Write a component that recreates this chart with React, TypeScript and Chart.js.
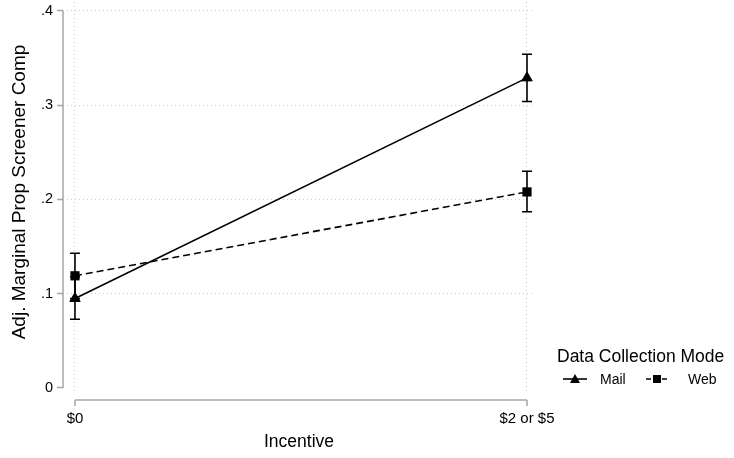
import React, { useEffect, useRef } from 'react';
import { Chart, registerables } from 'chart.js';

Chart.register(...registerables);

// ---- data ----
const incentives = ['$0', '$2 or $5'];
const xPositions = [0, 1];
const mailEst = [0.095, 0.329];
const mailLo = [0.073, 0.304];
const mailHi = [0.118, 0.354];
const webEst = [0.119, 0.208];
const webLo = [0.095, 0.187];
const webHi = [0.143, 0.23];
const yTicks = [0, 0.1, 0.2, 0.3, 0.4];
const yTickLabels = ['0', '.1', '.2', '.3', '.4'];
const seriesNames = ['Mail', 'Web'];
const legendTitle = 'Data Collection Mode';
const yTitle = 'Adj. Marginal Prop Screener Comp';
const xTitle = 'Incentive';

const FONT = "'Liberation Sans', Arial, sans-serif";
const AXIS_GRAY = '#a6a6a6';
const GRID_GRAY = '#cfcfcf';

const errorBarPlugin = {
  id: 'errorBars',
  afterDatasetsDraw(chart: any) {
    const { ctx } = chart;
    const xs = chart.scales.x;
    const ys = chart.scales.y;
    chart.data.datasets.forEach((ds: any) => {
      ds.lo.forEach((lo: number, i: number) => {
        const hi = ds.hi[i];
        const x = xs.getPixelForValue(xPositions[i]);
        const y1 = ys.getPixelForValue(lo);
        const y2 = ys.getPixelForValue(hi);
        ctx.save();
        ctx.strokeStyle = '#000';
        ctx.lineWidth = 1.6;
        ctx.setLineDash([]);
        ctx.beginPath();
        ctx.moveTo(x, y1);
        ctx.lineTo(x, y2);
        ctx.moveTo(x - 5, y1);
        ctx.lineTo(x + 5, y1);
        ctx.moveTo(x - 5, y2);
        ctx.lineTo(x + 5, y2);
        ctx.stroke();
        ctx.restore();
      });
    });
  },
};

const axesPlugin = {
  id: 'stataAxes',
  afterDraw(chart: any) {
    const { ctx, chartArea } = chart;
    const xs = chart.scales.x;
    const ys = chart.scales.y;
    ctx.save();
    ctx.strokeStyle = AXIS_GRAY;
    ctx.lineWidth = 1.5;
    ctx.setLineDash([]);
    // y axis line
    const yx = chartArea.left;
    ctx.beginPath();
    ctx.moveTo(yx, ys.getPixelForValue(yTicks[0]));
    ctx.lineTo(yx, ys.getPixelForValue(yTicks[yTicks.length - 1]));
    ctx.stroke();
    // x axis line, offset below plot region
    const ay = chartArea.bottom + 9;
    const x0 = xs.getPixelForValue(xPositions[0]);
    const x1 = xs.getPixelForValue(xPositions[xPositions.length - 1]);
    ctx.beginPath();
    ctx.moveTo(x0, ay);
    ctx.lineTo(x1, ay);
    xPositions.forEach((v) => {
      const px = xs.getPixelForValue(v);
      ctx.moveTo(px, ay);
      ctx.lineTo(px, ay + 6);
    });
    ctx.stroke();

    // y title
    ctx.fillStyle = '#000';
    ctx.save();
    ctx.translate(20, 192);
    ctx.rotate(-Math.PI / 2);
    ctx.font = `19px ${FONT}`;
    ctx.textAlign = 'center';
    ctx.textBaseline = 'middle';
    ctx.fillText(yTitle, 0, 0);
    ctx.restore();

    // legend
    const lx = 557;
    const ty = 357;
    ctx.font = `17.5px ${FONT}`;
    ctx.textAlign = 'left';
    ctx.textBaseline = 'middle';
    ctx.fillText(legendTitle, lx, ty);

    const ry = 379;
    ctx.strokeStyle = '#000';
    ctx.lineWidth = 1.6;
    // Mail
    ctx.beginPath();
    ctx.moveTo(563, ry);
    ctx.lineTo(587, ry);
    ctx.stroke();
    ctx.beginPath();
    ctx.moveTo(575, ry - 5);
    ctx.lineTo(580, ry + 4);
    ctx.lineTo(570, ry + 4);
    ctx.closePath();
    ctx.fill();
    ctx.font = `14px ${FONT}`;
    ctx.fillText(seriesNames[0], 600, ry + 1);
    // Web
    ctx.setLineDash([5, 3]);
    ctx.beginPath();
    ctx.moveTo(646, ry);
    ctx.lineTo(669, ry);
    ctx.stroke();
    ctx.setLineDash([]);
    ctx.fillRect(653, ry - 4, 8, 8);
    ctx.fillText(seriesNames[1], 688, ry + 1);
    ctx.restore();
  },
};

export default function App() {
  const ref = useRef<HTMLCanvasElement>(null);
  useEffect(() => {
    if (!ref.current) return;
    const chart = new Chart(ref.current, {
      type: 'line',
      data: {
        datasets: [
          {
            label: seriesNames[0],
            data: xPositions.map((x, i) => ({ x, y: mailEst[i] })),
            lo: mailLo,
            hi: mailHi,
            borderColor: '#000',
            backgroundColor: '#000',
            borderWidth: 1.6,
            pointStyle: 'triangle',
            pointRadius: 6,
            pointHoverRadius: 6,
            pointBackgroundColor: '#000',
            pointBorderColor: '#000',
            pointBorderWidth: 1,
            tension: 0,
          } as any,
          {
            label: seriesNames[1],
            data: xPositions.map((x, i) => ({ x, y: webEst[i] })),
            lo: webLo,
            hi: webHi,
            borderColor: '#000',
            backgroundColor: '#000',
            borderWidth: 1.6,
            borderDash: [7, 4],
            pointStyle: 'rect',
            pointRadius: 6.5,
            pointHoverRadius: 6.5,
            pointBackgroundColor: '#000',
            pointBorderColor: '#000',
            pointBorderWidth: 0,
            tension: 0,
          } as any,
        ],
      },
      options: {
        animation: false,
        responsive: false,
        layout: { autoPadding: false, padding: { top: 2, right: 199, left: 0, bottom: 0 } },
        plugins: { legend: { display: false }, tooltip: { enabled: false } },
        scales: {
          x: {
            type: 'linear',
            min: -0.0265,
            max: 1.0177,
            afterBuildTicks: (s: any) => {
              s.ticks = xPositions.map((v) => ({ value: v }));
            },
            afterFit: (s: any) => {
              s.height = 67;
              s.paddingLeft = 0;
              s.paddingRight = 0;
            },
            ticks: {
              callback: (_v: any, i: number) => incentives[i],
              autoSkip: false,
              maxRotation: 0,
              padding: 19,
              color: '#000',
              font: { family: FONT, size: 15 },
            },
            grid: {
              color: GRID_GRAY,
              lineWidth: 1,
              drawTicks: false,
            } as any,
            border: { display: false, dash: [1, 3] },
            title: {
              display: true,
              text: xTitle,
              color: '#000',
              font: { family: FONT, size: 17.5 },
              padding: { top: 0, bottom: 5 },
            },
          },
          y: {
            type: 'linear',
            min: -0.0032,
            max: 0.4095,
            afterBuildTicks: (s: any) => {
              s.ticks = yTicks.map((v) => ({ value: v }));
            },
            afterFit: (s: any) => {
              s.width = 63;
              s.paddingTop = 0;
              s.paddingBottom = 0;
            },
            ticks: {
              callback: (_v: any, i: number) => yTickLabels[i],
              padding: 4,
              color: '#000',
              font: { family: FONT, size: 14.5 },
            },
            grid: {
              color: (c: any) => (c.tick && c.tick.value === 0 ? 'rgba(0,0,0,0)' : GRID_GRAY),
              lineWidth: 1,
              tickColor: AXIS_GRAY,
              tickWidth: 1.5,
              tickBorderDash: [],
              tickLength: 6,
            } as any,
            border: { display: false, dash: [1, 3] },
            title: { display: false, text: yTitle },
          },
        },
      } as any,
      plugins: [errorBarPlugin, axesPlugin],
    });
    return () => chart.destroy();
  }, []);
  return (
    <div style={{ position: 'absolute', left: 0, top: 0, width: 734, height: 458, background: '#fff' }}>
      <canvas ref={ref} width={734} height={458} style={{ width: 734, height: 458 }} />
    </div>
  );
}
